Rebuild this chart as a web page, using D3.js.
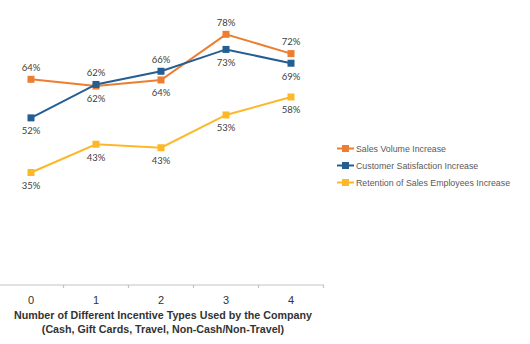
<!DOCTYPE html>
<html>
<head>
<meta charset="utf-8">
<script src="https://cdn.jsdelivr.net/npm/d3@7"></script>
<style>
  body { margin: 0; background: #fff; }
  svg { display: block; }
</style>
</head>
<body>
<script>
var width = 530;
var height = 344;

// data
var categories = ["0", "1", "2", "3", "4"];
var seriesNames = ["Sales Volume Increase", "Customer Satisfaction Increase", "Retention of Sales Employees Increase"];
var salesVolume = [64, 61.9, 63.8, 78, 72];
var customerSat = [52, 62.4, 66.5, 73.3, 69];
var retention = [35, 43.8, 42.7, 52.9, 58.5];
var salesLabels = ["64%", "62%", "64%", "78%", "72%"];
var customerLabels = ["52%", "62%", "66%", "73%", "69%"];
var retentionLabels = ["35%", "43%", "43%", "53%", "58%"];
// where each label sits relative to its marker
var salesPos = ["above", "below", "below", "above", "above"];
var customerPos = ["below", "above", "above", "below", "below"];
var retentionPos = ["below", "below", "below", "below", "below"];
var xTitle = ["Number of Different Incentive Types Used by the Company", "(Cash, Gift Cards, Travel, Non-Cash/Non-Travel)"];

var colors = ["#ED7D31", "#255E91", "#FDB827"];

var series = [
  { name: seriesNames[0], values: salesVolume, labels: salesLabels, pos: salesPos, color: colors[0] },
  { name: seriesNames[1], values: customerSat, labels: customerLabels, pos: customerPos, color: colors[1] },
  { name: seriesNames[2], values: retention, labels: retentionLabels, pos: retentionPos, color: colors[2] }
];

var svg = d3.select("body").append("svg")
  .attr("width", width)
  .attr("height", height);

var x = d3.scaleBand().domain(categories).range([-1.5, 323.5]);
var y = d3.scaleLinear().domain([0, 80]).range([285, 285 - 80 * 3.214]);

// x axis
var axisY = y(0);
svg.append("line")
  .attr("x1", 0).attr("x2", 324)
  .attr("y1", axisY).attr("y2", axisY)
  .attr("stroke", "#c4c4c4").attr("stroke-width", 1.2);

svg.selectAll(".tickmark")
  .data(categories)
  .enter().append("line")
  .attr("class", "tickmark")
  .attr("x1", function(d) { return x(d) + x.bandwidth(); })
  .attr("x2", function(d) { return x(d) + x.bandwidth(); })
  .attr("y1", axisY).attr("y2", axisY + 3)
  .attr("stroke", "#c4c4c4").attr("stroke-width", 1.2);

svg.selectAll(".ticklabel")
  .data(categories)
  .enter().append("text")
  .attr("class", "ticklabel")
  .attr("x", function(d) { return x(d) + x.bandwidth() / 2; })
  .attr("y", 304)
  .attr("text-anchor", "middle")
  .style("font-family", "Liberation Sans, Arial, sans-serif")
  .style("font-size", "11px")
  .style("fill", "#333")
  .text(function(d) { return d; });

svg.selectAll(".xtitle")
  .data(xTitle)
  .enter().append("text")
  .attr("class", "xtitle")
  .attr("x", 163)
  .attr("y", function(d, i) { return 319 + i * 14; })
  .attr("text-anchor", "middle")
  .style("font-family", "Liberation Sans, Arial, sans-serif")
  .style("font-weight", "bold")
  .style("font-size", "10.7px")
  .style("fill", "#333")
  .text(function(d) { return d; });

// lines
var line = d3.line()
  .x(function(d, i) { return x(categories[i]) + x.bandwidth() / 2; })
  .y(function(d) { return y(d); });

var g = svg.selectAll(".series")
  .data(series)
  .enter().append("g")
  .attr("class", "series");

g.append("path")
  .attr("d", function(s) { return line(s.values); })
  .attr("fill", "none")
  .attr("stroke", function(s) { return s.color; })
  .attr("stroke-width", 2);

g.selectAll(".marker")
  .data(function(s) { return s.values.map(function(v, i) { return { v: v, i: i, s: s }; }); })
  .enter().append("rect")
  .attr("class", "marker")
  .attr("x", function(d) { return x(categories[d.i]) + x.bandwidth() / 2 - 3.5; })
  .attr("y", function(d) { return y(d.v) - 3.5; })
  .attr("width", 7).attr("height", 7)
  .attr("fill", function(d) { return d.s.color; });

g.selectAll(".dlabel")
  .data(function(s) { return s.values.map(function(v, i) { return { v: v, i: i, s: s }; }); })
  .enter().append("text")
  .attr("class", "dlabel")
  .attr("x", function(d) { return x(categories[d.i]) + x.bandwidth() / 2; })
  .attr("y", function(d) { return y(d.v) + (d.s.pos[d.i] == "above" ? -12 : 13); })
  .attr("dy", "0.35em")
  .attr("text-anchor", "middle")
  .style("font-family", "Lato, sans-serif")
  .style("font-size", "9.5px")
  .style("fill", "#404040")
  .text(function(d) { return d.s.labels[d.i]; });

// legend
var legend = svg.selectAll(".legend")
  .data(series)
  .enter().append("g")
  .attr("class", "legend")
  .attr("transform", function(d, i) { return "translate(337," + (148.5 + i * 17) + ")"; });

legend.append("line")
  .attr("x1", 0).attr("x2", 17)
  .attr("y1", 0).attr("y2", 0)
  .attr("stroke", function(d) { return d.color; })
  .attr("stroke-width", 2);

legend.append("rect")
  .attr("x", 5).attr("y", -3.5)
  .attr("width", 7).attr("height", 7)
  .attr("fill", function(d) { return d.color; });

legend.append("text")
  .attr("x", 19)
  .attr("y", 0)
  .attr("dy", "0.35em")
  .style("font-family", "Liberation Sans, Arial, sans-serif")
  .style("font-size", "8.8px")
  .style("fill", "#595959")
  .text(function(d) { return d.name; });
</script>
</body>
</html>
